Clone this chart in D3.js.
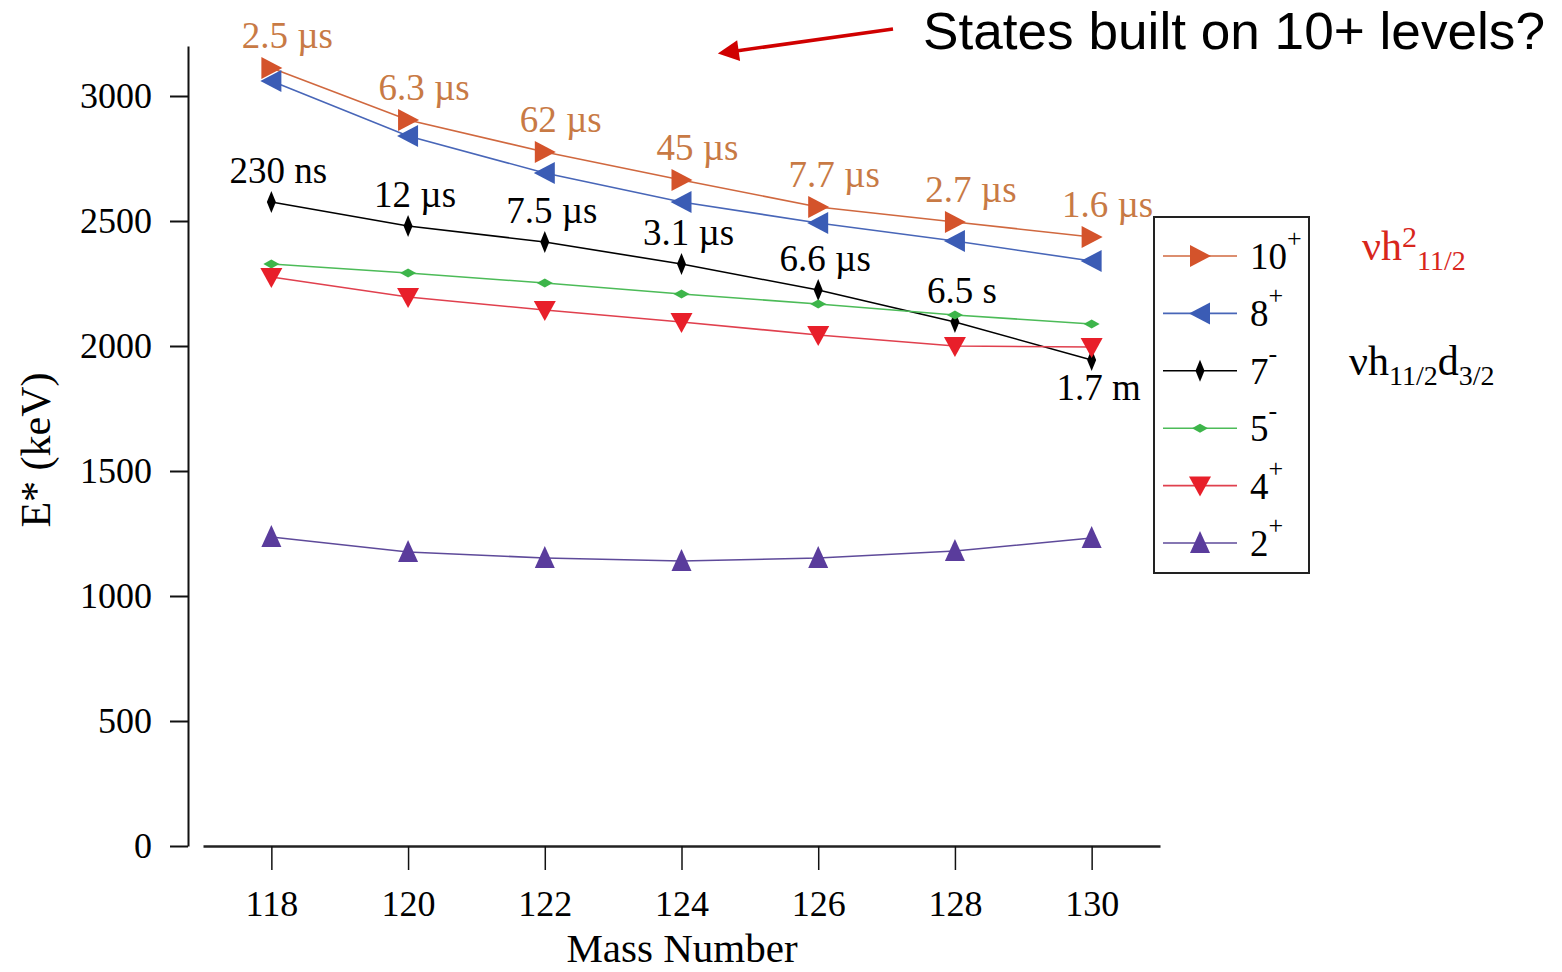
<!DOCTYPE html>
<html>
<head>
<meta charset="utf-8">
<script src="https://cdn.jsdelivr.net/npm/d3@7"></script>
<style>
  body { margin: 0; background: #fff; }
  svg { display: block; }
</style>
</head>
<body>
<svg id="chart" width="1562" height="972" font-family="Liberation Serif, Times New Roman, serif"></svg>
<script>
// ---------- data ----------
const massNumbers = [118, 120, 122, 124, 126, 128, 130];
const e10 = [3112, 2904, 2776, 2664, 2556, 2496, 2436];
const e8  = [3060, 2840, 2692, 2576, 2492, 2420, 2340];
const e7  = [2576, 2480, 2416, 2328, 2224, 2096, 1944];
const e5  = [2328, 2292, 2252, 2208, 2168, 2124, 2088];
const e4  = [2276, 2196, 2144, 2096, 2044, 2000, 1996];
const e2  = [1236, 1176, 1152, 1140, 1152, 1180, 1232];
const halfLives10 = ["2.5 µs", "6.3 µs", "62 µs", "45 µs", "7.7 µs", "2.7 µs", "1.6 µs"];
const halfLives7  = ["230 ns", "12 µs", "7.5 µs", "3.1 µs", "6.6 µs", "6.5 s", "1.7 m"];
const yTicks = [0, 500, 1000, 1500, 2000, 2500, 3000];
const seriesNames = ["10", "8", "7", "5", "4", "2"];
const seriesParity = ["+", "+", "-", "-", "+", "+"];

// ---------- layout ----------
const svg = d3.select("#chart");
const x = d3.scaleLinear().domain([117, 131]).range([203, 1160]);
const y = d3.scaleLinear().domain([0, 3200]).range([846, 46]);
const SERIF = "Liberation Serif, Times New Roman, serif";

const styles = [
  { marker: "triRight", fill: "#d4532b", line: "#d0683f" },
  { marker: "triLeft",  fill: "#3b5cb5", line: "#4866b8" },
  { marker: "diamondV", fill: "#000000", line: "#000000" },
  { marker: "diamondH", fill: "#3db54a", line: "#4cbb58" },
  { marker: "triDown",  fill: "#e81f2a", line: "#e0404e" },
  { marker: "triUp",    fill: "#5a3c9c", line: "#5e4a9a" }
];
const seriesValues = [e10, e8, e7, e5, e4, e2];

function markerPath(type) {
  switch (type) {
    case "triRight": return "M-10,-11L11,0L-10,11Z";
    case "triLeft":  return "M10,-11L-11,0L10,11Z";
    case "triDown":  return "M-11,-9L11,-9L0,11Z";
    case "triUp":    return "M-10,10L10,10L0,-12Z";
    case "diamondV": return "M0,-11L4.5,0L0,11L-4.5,0Z";
    case "diamondH": return "M-8,0L0,-4.5L8,0L0,4.5Z";
  }
}

// ---------- axes ----------
const yAxis = d3.axisLeft(y).tickValues(yTicks).tickSize(18).tickSizeOuter(0).tickPadding(18).tickFormat(d3.format("d"));
const gy = svg.append("g").attr("transform", "translate(188,0)").call(yAxis);
gy.select(".domain").attr("stroke", "#111").attr("stroke-width", 2);
gy.selectAll(".tick line").attr("stroke", "#111").attr("stroke-width", 2);
gy.selectAll(".tick text").attr("font-family", SERIF).attr("font-size", 36).attr("fill", "#000").attr("dy", "0.33em");

const xAxis = d3.axisBottom(x).tickValues(massNumbers).tickSize(24).tickSizeOuter(0).tickPadding(20).tickFormat(d3.format("d"));
const gx = svg.append("g").attr("transform", "translate(0,846)").call(xAxis);
gx.select(".domain").attr("stroke", "#222").attr("stroke-width", 2.5);
gx.selectAll(".tick line").attr("stroke", "#111").attr("stroke-width", 1.5);
gx.selectAll(".tick text").attr("font-family", SERIF).attr("font-size", 36).attr("fill", "#000");

svg.append("text").attr("x", 682).attr("y", 962).attr("text-anchor", "middle")
  .attr("font-size", 41).text("Mass Number");
svg.append("text").attr("transform", "translate(50,450) rotate(-90)").attr("text-anchor", "middle")
  .attr("font-size", 42).text("E* (keV)");

// ---------- series ----------
const line = d3.line().x((d, i) => x(massNumbers[i])).y(d => y(d));
seriesValues.forEach((vals, si) => {
  const st = styles[si];
  svg.append("path").datum(vals).attr("d", line)
    .attr("fill", "none").attr("stroke", st.line).attr("stroke-width", 1.6);
});
seriesValues.forEach((vals, si) => {
  const st = styles[si];
  svg.append("g").selectAll("path").data(vals).join("path")
    .attr("transform", (d, i) => `translate(${x(massNumbers[i])},${y(d)})`)
    .attr("d", markerPath(st.marker)).attr("fill", st.fill);
});

// ---------- half-life labels ----------
svg.append("g").selectAll("text").data(halfLives10).join("text")
  .attr("x", (d, i) => x(massNumbers[i]) + 16)
  .attr("y", (d, i) => y(e10[i]) - 20)
  .attr("text-anchor", "middle").attr("font-size", 37).attr("fill", "#c87a45")
  .text(d => d);
svg.append("g").selectAll("text").data(halfLives7).join("text")
  .attr("x", (d, i) => x(massNumbers[i]) + 7)
  .attr("y", (d, i) => i === halfLives7.length - 1 ? y(e7[i]) + 40 : y(e7[i]) - 19)
  .attr("text-anchor", "middle").attr("font-size", 37).attr("fill", "#000")
  .text(d => d);

// ---------- legend ----------
const lg = svg.append("g");
lg.append("rect").attr("x", 1154).attr("y", 217).attr("width", 155).attr("height", 356)
  .attr("fill", "#fff").attr("stroke", "#222").attr("stroke-width", 2);
const ly = d3.scalePoint().domain(seriesNames).range([256, 543]);
seriesNames.forEach((name, si) => {
  const st = styles[si];
  const cy = ly(name);
  lg.append("line").attr("x1", 1163).attr("x2", 1237).attr("y1", cy).attr("y2", cy)
    .attr("stroke", st.line).attr("stroke-width", 1.6);
  lg.append("path").attr("transform", `translate(1200,${cy})`).attr("d", markerPath(st.marker)).attr("fill", st.fill);
  const t = lg.append("text").attr("x", 1250).attr("y", cy + 13).attr("font-size", 37).attr("fill", "#000");
  t.append("tspan").text(name);
  t.append("tspan").attr("dy", -22).attr("font-size", 26).text(seriesParity[si]);
});

// ---------- configuration annotations ----------
const a1 = svg.append("text").attr("x", 1362).attr("y", 260).attr("font-size", 42).attr("fill", "#d8261c");
a1.append("tspan").text("νh");
a1.append("tspan").attr("dy", -13).attr("font-size", 30).text("2");
a1.append("tspan").attr("dy", 23).attr("font-size", 28).text("11/2");

const a2 = svg.append("text").attr("x", 1349).attr("y", 375).attr("font-size", 42).attr("fill", "#000");
a2.append("tspan").text("νh");
a2.append("tspan").attr("dy", 10).attr("font-size", 28).text("11/2");
a2.append("tspan").attr("dy", -10).text("d");
a2.append("tspan").attr("dy", 10).attr("font-size", 28).text("3/2");

// ---------- title and arrow ----------
svg.append("text").attr("x", 923).attr("y", 49)
  .attr("font-family", "Liberation Sans, Arial, sans-serif")
  .attr("font-size", 52).attr("fill", "#000")
  .attr("textLength", 622).attr("lengthAdjust", "spacingAndGlyphs")
  .text("States built on 10+ levels?");
svg.append("defs").append("marker").attr("id", "arrowhead").attr("viewBox", "0 0 10 10")
  .attr("refX", 8).attr("refY", 5).attr("markerWidth", 7).attr("markerHeight", 6)
  .attr("markerUnits", "strokeWidth").attr("orient", "auto")
  .append("path").attr("d", "M0,0L10,5L0,10Z").attr("fill", "#d00000");
svg.append("line").attr("x1", 893).attr("y1", 29).attr("x2", 722).attr("y2", 53)
  .attr("stroke", "#d00000").attr("stroke-width", 3.5).attr("marker-end", "url(#arrowhead)");
</script>
</body>
</html>
